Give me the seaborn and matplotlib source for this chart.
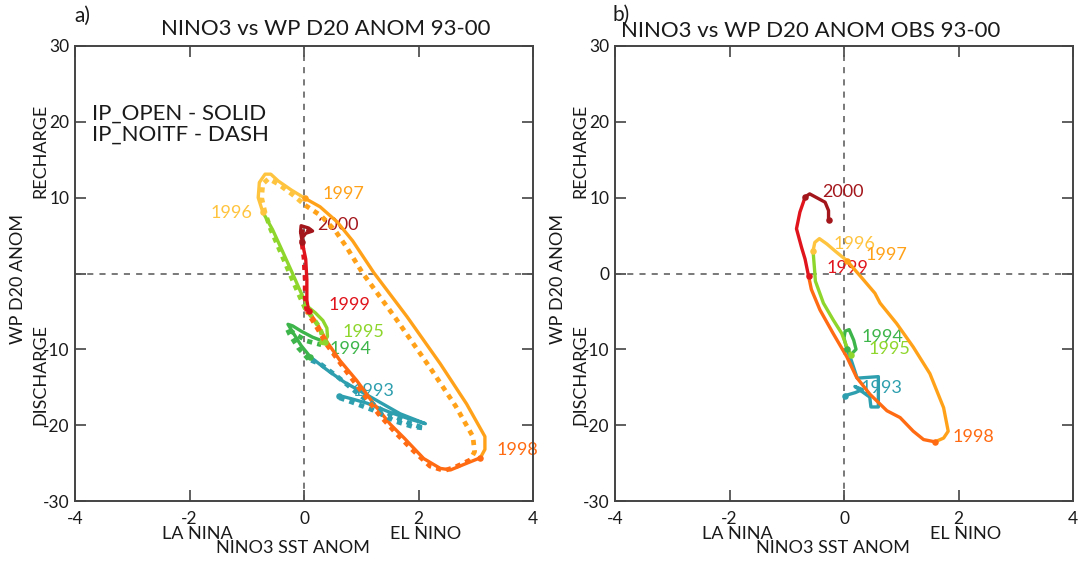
import numpy as np
import pandas as pd
import matplotlib
matplotlib.use("Agg")
import matplotlib.pyplot as plt
import seaborn as sns

# ---------------- data ----------------
years = [1993, 1994, 1995, 1996, 1997, 1998, 1999, 2000]
year_colors = {1993: "#2E9FAE", 1994: "#3DB54A", 1995: "#8ED62C", 1996: "#FFC43F",
               1997: "#FFA21A", 1998: "#FF6B12", 1999: "#E0141C", 2000: "#A3161B"}

# panel a) IP_OPEN (solid)
ipopen_x = {
    1993: [0.62, 0.82, 1.10, 1.50, 1.85, 2.12, 1.95, 1.68, 1.33, 0.98, 0.70, 0.40, 0.11],
    1994: [0.11, -0.05, -0.20, -0.28, -0.20, -0.05, 0.15, 0.36],
    1995: [0.36, 0.41, 0.40, 0.33, 0.20, 0.07, -0.06, -0.20, -0.38, -0.55, -0.72],
    1996: [-0.72, -0.80, -0.78, -0.68, -0.58, -0.45, -0.22, 0.02],
    1997: [0.02, 0.28, 0.58, 0.85, 1.22, 1.80, 2.38, 2.84, 3.16, 3.16, 3.08],
    1998: [3.08, 2.85, 2.56, 2.38, 2.09, 1.75, 1.51, 1.22, 0.92, 0.63, 0.40, 0.23, 0.08],
    1999: [0.08, 0.05, 0.05, 0.03, -0.03],
    2000: [-0.03, -0.06, -0.05, 0.08, 0.15, 0.03, -0.02],
}
ipopen_y = {
    1993: [-16.1, -16.5, -17.1, -18.3, -19.2, -19.8, -19.3, -18.5, -17.0, -15.5, -14.3, -12.7, -11.0],
    1994: [-11.0, -9.5, -7.7, -6.7, -6.9, -7.6, -8.4, -9.0],
    1995: [-9.0, -8.3, -7.2, -6.2, -5.2, -4.4, -2.4, 0.0, 3.0, 5.8, 8.1],
    1996: [8.1, 10.0, 12.0, 13.1, 13.1, 12.2, 11.0, 9.9],
    1997: [9.9, 8.8, 6.8, 4.3, 0.1, -5.7, -11.9, -17.2, -21.5, -23.2, -24.3],
    1998: [-24.3, -25.0, -25.9, -25.7, -24.4, -21.7, -19.9, -17.2, -14.1, -11.5, -9.0, -6.6, -5.0],
    1999: [-5.0, -3.5, -0.8, 1.9, 4.1],
    2000: [4.1, 5.5, 6.3, 6.0, 5.6, 5.3, 4.8],
}

# panel a) IP_NOITF (dash)
noitf_x = {
    1993: [0.62, 0.85, 1.20, 1.60, 1.90, 2.10, 1.80, 1.40, 1.00, 0.60, 0.30, 0.08],
    1994: [0.08, -0.10, -0.25, -0.30, -0.15, 0.05, 0.30],
    1995: [0.30, 0.33, 0.28, 0.15, 0.02, -0.10, -0.25, -0.42, -0.58, -0.68],
    1996: [-0.68, -0.74, -0.72, -0.62, -0.45, -0.20, 0.02],
    1997: [0.02, 0.30, 0.55, 0.75, 1.02, 1.60, 2.20, 2.65, 2.95, 2.98, 2.90],
    1998: [2.90, 2.65, 2.45, 2.20, 1.90, 1.60, 1.30, 1.00, 0.70, 0.40, 0.20, 0.05],
    1999: [0.05, 0.02, 0.02, 0.00, -0.03],
    2000: [-0.03, -0.05, -0.02, 0.10, 0.02],
}
noitf_y = {
    1993: [-16.4, -17.0, -18.0, -19.5, -20.2, -20.4, -19.6, -18.2, -16.2, -13.7, -12.0, -11.3],
    1994: [-11.3, -9.8, -8.0, -7.2, -8.0, -8.9, -9.4],
    1995: [-9.4, -8.5, -7.2, -5.8, -4.6, -2.6, 0.0, 3.0, 5.8, 8.0],
    1996: [8.0, 10.0, 11.8, 12.5, 11.8, 10.4, 9.0],
    1997: [9.0, 7.6, 5.6, 3.4, 0.1, -5.9, -12.4, -17.5, -21.5, -23.5, -24.6],
    1998: [-24.6, -25.5, -26.0, -25.4, -23.3, -21.0, -18.5, -15.5, -12.5, -9.4, -6.8, -5.0],
    1999: [-5.0, -3.0, -0.8, 2.0, 3.8],
    2000: [3.8, 5.0, 6.0, 5.7, 5.2],
}

# panel b) OBS
obs_x = {
    1993: [0.02, 0.20, 0.32, 0.19, 0.45, 0.47, 0.60, 0.60, 0.23, 0.13, 0.05],
    1994: [0.05, 0.00, 0.02, 0.09, 0.17, 0.21, 0.12],
    1995: [0.12, 0.05, -0.04, -0.19, -0.36, -0.50, -0.51, -0.53, -0.54],
    1996: [-0.54, -0.51, -0.43, -0.30, -0.13, 0.05],
    1997: [0.05, 0.28, 0.54, 0.63, 0.92, 1.21, 1.50, 1.74, 1.82, 1.74, 1.59],
    1998: [1.59, 1.39, 1.21, 0.98, 0.75, 0.45, 0.22, 0.05, -0.19, -0.42, -0.57, -0.62],
    1999: [-0.62, -0.68, -0.74, -0.83, -0.77, -0.71, -0.68],
    2000: [-0.68, -0.60, -0.33, -0.27, -0.27],
}
obs_y = {
    1993: [-16.1, -15.7, -15.3, -14.9, -16.3, -17.6, -17.6, -13.6, -13.8, -11.5, -10.0],
    1994: [-10.0, -8.5, -7.6, -7.4, -8.8, -10.0, -10.7],
    1995: [-10.7, -9.7, -7.9, -6.1, -3.9, -1.0, 0.1, 2.0, 3.0],
    1996: [3.0, 4.1, 4.6, 3.9, 2.8, 1.7],
    1997: [1.7, -0.3, -2.6, -3.9, -6.6, -9.7, -13.2, -17.7, -20.8, -21.7, -22.2],
    1998: [-22.2, -21.9, -20.8, -19.0, -18.1, -15.9, -13.7, -11.0, -7.9, -4.8, -2.1, -0.3],
    1999: [-0.3, 1.9, 3.4, 5.9, 8.1, 9.4, 10.1],
    2000: [10.1, 10.5, 9.4, 8.3, 7.0],
}

x_ticks = [-4, -2, 0, 2, 4]
y_ticks = [-30, -20, -10, 0, 10, 20, 30]

# ---------------- style ----------------
sns.set_style("ticks")
plt.rcParams["font.family"] = ["Lato", "DejaVu Sans"]
plt.rcParams["text.color"] = "#1a1a1a"

W, H = 1079, 562
fig = plt.figure(figsize=(W / 100, H / 100), dpi=100)

def px_axes(l, r, t, b):
    return fig.add_axes([l / W, 1 - b / H, (r - l) / W, (b - t) / H])

axA = px_axes(75, 533, 46, 501)
axB = px_axes(615, 1073, 46, 501)

DOT = (0, (1.1, 1.1))

def draw_series(ax, xs, ys, lw, ls, dots=True, end_dot=False):
    for yr in years:
        df = pd.DataFrame({"x": xs[yr], "y": ys[yr]})
        sns.lineplot(data=df, x="x", y="y", sort=False, estimator=None,
                     color=year_colors[yr], linewidth=lw, linestyle=ls,
                     legend=False, ax=ax, solid_capstyle="round",
                     dash_capstyle="butt", zorder=3)
        if dots:
            sns.scatterplot(x=[xs[yr][0]], y=[ys[yr][0]], color=year_colors[yr],
                            s=22, linewidth=0, legend=False, ax=ax, zorder=4)
    if end_dot:
        yr = years[-1]
        sns.scatterplot(x=[xs[yr][-1]], y=[ys[yr][-1]], color=year_colors[yr],
                        s=22, linewidth=0, legend=False, ax=ax, zorder=4)

def style_axes(ax, show_zero_label):
    ax.set_xlim(-4, 4)
    ax.set_ylim(-30, 30)
    ax.axvline(0, color="#555555", lw=1.1, ls=(0, (4, 4)), zorder=1)
    ax.axhline(0, color="#555555", lw=1.1, ls=(0, (4, 4)), zorder=1)
    ax.set_xticks(x_ticks)
    ax.set_yticks(y_ticks)
    ax.set_xticklabels([str(v) for v in x_ticks])
    ax.set_yticklabels([("" if (v == 0 and not show_zero_label) else str(v)) for v in y_ticks])
    ax.tick_params(axis="both", direction="in", length=8, width=1.2, color="#444444",
                   top=True, right=True, labelsize=12.5, labelcolor="#1a1a1a")
    ax.tick_params(axis="x", pad=7)
    ax.tick_params(axis="y", pad=4)
    for sp in ax.spines.values():
        sp.set_color("#444444")
        sp.set_linewidth(1.4)
        sp.set_visible(True)
    ax.set_xlabel("")
    ax.set_ylabel("")
    # axis annotation texts
    ax.text(0.267, -0.072, "LA NINA", transform=ax.transAxes, ha="center", va="center", fontsize=13)
    ax.text(0.766, -0.072, "EL NINO", transform=ax.transAxes, ha="center", va="center", fontsize=13)
    ax.text(0.475, -0.104, "NINO3 SST ANOM", transform=ax.transAxes, ha="center", va="center", fontsize=13)
    ax.text(-0.076, 0.77, "RECHARGE", transform=ax.transAxes, ha="center", va="center",
            rotation=90, fontsize=13)
    ax.text(-0.124, 0.487, "WP D20 ANOM", transform=ax.transAxes, ha="center", va="center",
            rotation=90, fontsize=13)
    ax.text(-0.076, 0.277, "DISCHARGE", transform=ax.transAxes, ha="center", va="center",
            rotation=90, fontsize=13)

# ---- panel a
draw_series(axA, ipopen_x, ipopen_y, lw=2.4, ls="-")
draw_series(axA, noitf_x, noitf_y, lw=3.4, ls=DOT, dots=False)
style_axes(axA, show_zero_label=False)
labA = {1993: (0.84, -15.5, "left"), 1994: (0.45, -9.9, "left"), 1995: (0.68, -7.7, "left"),
        1996: (-0.91, 8.0, "right"), 1997: (0.33, 10.5, "left"), 1998: (3.37, -23.3, "left"),
        1999: (0.42, -4.1, "left"), 2000: (0.23, 6.35, "left")}
for yr, (lx, ly, ha) in labA.items():
    axA.text(lx, ly, str(yr), color=year_colors[yr], ha=ha, va="center", fontsize=13, zorder=2)
axA.text(0.037, 0.852, "IP_OPEN - SOLID", transform=axA.transAxes, ha="left", va="center", fontsize=16)
axA.text(0.037, 0.806, "IP_NOITF - DASH", transform=axA.transAxes, ha="left", va="center", fontsize=16)

# ---- panel b
draw_series(axB, obs_x, obs_y, lw=2.4, ls="-", end_dot=True)
style_axes(axB, show_zero_label=True)
labB = {1993: (0.28, -15.1, "left"), 1994: (0.30, -8.4, "left"), 1995: (0.42, -9.9, "left"),
        1996: (-0.19, 3.9, "left"), 1997: (0.38, 2.4, "left"), 1998: (1.89, -21.5, "left"),
        1999: (-0.31, 0.7, "left"), 2000: (-0.38, 10.8, "left")}
for yr, (lx, ly, ha) in labB.items():
    axB.text(lx, ly, str(yr), color=year_colors[yr], ha=ha, va="center", fontsize=13, zorder=2)

# titles and panel letters
fig.text(326 / W, 1 - 29 / H, "NINO3 vs WP D20 ANOM 93-00", ha="center", va="center", fontsize=16)
fig.text(811 / W, 1 - 31 / H, "NINO3 vs WP D20 ANOM OBS 93-00", ha="center", va="center", fontsize=16)
fig.text(74 / W, 1 - 16 / H, "a)", ha="left", va="center", fontsize=15)
fig.text(612 / W, 1 - 15 / H, "b)", ha="left", va="center", fontsize=15)

fig.savefig("out.png", dpi=100, facecolor="white")
